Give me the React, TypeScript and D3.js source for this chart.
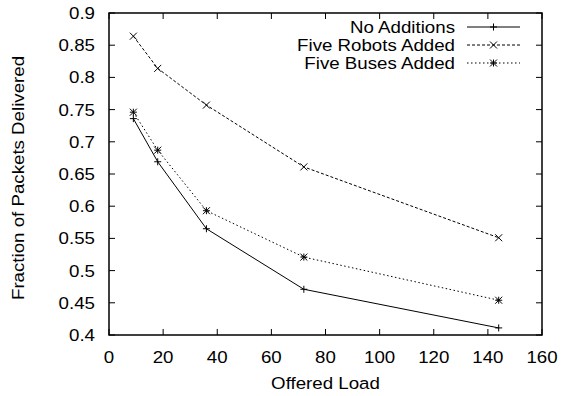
import React, { useEffect, useRef } from "react";
import * as d3 from "d3";

const loads = [9, 18, 36, 72, 144];
const noAdditions = [0.736, 0.669, 0.565, 0.471, 0.411];
const robotsAdded = [0.864, 0.814, 0.757, 0.661, 0.551];
const busesAdded = [0.746, 0.687, 0.593, 0.521, 0.454];
const seriesNames = ["No Additions", "Five Robots Added", "Five Buses Added"];
const xTicks = [0, 20, 40, 60, 80, 100, 120, 140, 160];
const yTicks = [0.4, 0.45, 0.5, 0.55, 0.6, 0.65, 0.7, 0.75, 0.8, 0.85, 0.9];

const W = 561;
const H = 396;
const FONT = "'Liberation Sans', Arial, Helvetica, sans-serif";

export default function App() {
  const ref = useRef<SVGSVGElement>(null);

  useEffect(() => {
    const svg = d3.select(ref.current);
    svg.selectAll("*").remove();
    const left = 109, right = 542, top = 13, bottom = 335;
    const x = d3.scaleLinear().domain([0, 160]).range([left, right]);
    const y = d3.scaleLinear().domain([0.4, 0.9]).range([bottom, top]);
    const fs = 17;
    const sx = 1.1;
    const tickLen = 6;

    const g = svg.append("g");

    const label = (tx: number, ty: number, txt: string, anchor: string, rot = 0, dy = "0") =>
      g.append("text")
        .attr("transform", `translate(${tx},${ty}) rotate(${rot}) scale(${sx},1)`)
        .attr("text-anchor", anchor).attr("dy", dy)
        .attr("font-family", FONT).attr("font-size", fs).attr("fill", "#000").text(txt);

    // ticks
    xTicks.forEach((t) => {
      g.append("line").attr("x1", x(t)).attr("x2", x(t)).attr("y1", bottom).attr("y2", bottom - tickLen).attr("stroke", "#000");
      g.append("line").attr("x1", x(t)).attr("x2", x(t)).attr("y1", top).attr("y2", top + tickLen).attr("stroke", "#000");
      label(x(t), bottom + 28, String(t), "middle");
    });
    yTicks.forEach((t) => {
      g.append("line").attr("x1", left).attr("x2", left + tickLen).attr("y1", y(t)).attr("y2", y(t)).attr("stroke", "#000");
      g.append("line").attr("x1", right).attr("x2", right - tickLen).attr("y1", y(t)).attr("y2", y(t)).attr("stroke", "#000");
      label(left - 14, y(t), String(+t.toFixed(2)), "end", 0, "0.35em");
    });

    // frame
    g.append("rect").attr("x", left).attr("y", top).attr("width", right - left).attr("height", bottom - top)
      .attr("fill", "none").attr("stroke", "#000").attr("stroke-width", 1.5);

    // axis labels
    label((left + right) / 2, 389, "Offered Load", "middle");
    label(24, (top + bottom) / 2 + 4, "Fraction of Packets Delivered", "middle", -90);

    const dashes = [null, "3,2", "1.5,2.5"];
    const all = [noAdditions, robotsAdded, busesAdded];
    const ms = 3.5;
    const marker = (kind: number, cx: number, cy: number) => {
      const paths: string[] = [];
      if (kind === 0 || kind === 2) paths.push(`M${cx - ms},${cy}H${cx + ms}M${cx},${cy - ms}V${cy + ms}`);
      if (kind === 1 || kind === 2) paths.push(`M${cx - ms},${cy - ms}L${cx + ms},${cy + ms}M${cx - ms},${cy + ms}L${cx + ms},${cy - ms}`);
      g.append("path").attr("d", paths.join("")).attr("stroke", "#000").attr("stroke-width", 1).attr("fill", "none");
    };

    all.forEach((vals, i) => {
      const line = d3.line<number>().x((_, j) => x(loads[j])).y((v) => y(v));
      const p = g.append("path").attr("d", line(vals)).attr("fill", "none").attr("stroke", "#000").attr("stroke-width", 1);
      if (dashes[i]) p.attr("stroke-dasharray", dashes[i]);
      vals.forEach((v, j) => marker(i, x(loads[j]), y(v)));

      // legend
      const ly = 27 + i * 18;
      label(455, ly, seriesNames[i], "end", 0, "0.35em");
      const lp = g.append("line").attr("x1", 467).attr("x2", 520).attr("y1", ly).attr("y2", ly).attr("stroke", "#000").attr("stroke-width", 1);
      if (dashes[i]) lp.attr("stroke-dasharray", dashes[i]);
      marker(i, 493.5, ly);
    });
  }, []);

  return (
    <svg ref={ref} width={W} height={H} style={{ position: "absolute", left: 0, top: 0, background: "#fff" }} />
  );
}
